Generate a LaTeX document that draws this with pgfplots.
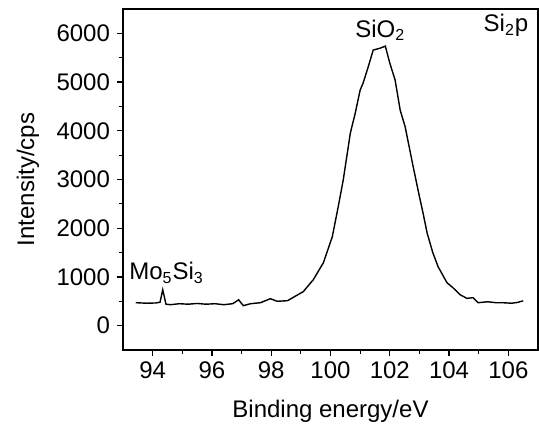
\documentclass[border=0pt]{standalone}
\usepackage{pgfplots}
\pgfplotsset{compat=1.18}
\usepackage{fontspec}
\setmainfont{Liberation Sans}

\newcommand{\chartfont}{\fontsize{12}{14}\selectfont}

\begin{document}
\begin{tikzpicture}
  \begin{axis}[
      scale only axis,
      width=207.5pt, height=170.5pt,
      xmin=93, xmax=107, ymin=-500, ymax=6500,
      xtick={94,96,...,106}, ytick={0,1000,...,6000},
      minor x tick num=1, minor y tick num=1,
      tick pos=left, tick align=outside,
      major tick length=3pt, minor tick length=2pt,
      axis line style={line width=0.8pt},
      every tick/.style={line width=0.6pt, black},
      /pgf/number format/assume math mode=true,
      /pgf/number format/set thousands separator={},
      font=\chartfont,
      tick label style={font=\chartfont},
      xticklabel style={yshift=0.5pt},
      xlabel={Binding energy/eV}, ylabel={Intensity/cps},
      xlabel style={at={(axis description cs:0.5,-0.179)}, anchor=center},
      ylabel style={at={(axis description cs:-0.229,0.5)}, anchor=center},
      clip=false,
    ]
    \addplot[black, line width=0.7pt] coordinates {
      (93.43,471) (93.8,460) (94.1,465) (94.25,480) (94.34,738) (94.45,440)
      (94.6,430) (94.9,450) (95.2,440) (95.5,455) (95.8,440) (96.1,450)
      (96.4,430) (96.7,450) (96.9,530) (97.06,410) (97.3,450) (97.64,471)
      (97.97,553) (98.2,500) (98.55,512) (98.9,635) (99.08,697) (99.42,943)
      (99.76,1291) (100.06,1824) (100.26,2439) (100.43,2992) (100.67,3955)
      (100.83,4350) (101.0,4836) (101.1,4980) (101.27,5307) (101.44,5656)
      (101.68,5697) (101.85,5738) (102.0,5390) (102.18,5041) (102.35,4426)
      (102.52,4078) (102.79,3258) (103.0,2650) (103.12,2316) (103.26,1900)
      (103.45,1500) (103.63,1209) (103.93,881) (104.13,779) (104.37,635)
      (104.6,560) (104.81,574) (104.98,471) (105.3,490) (105.6,470)
      (105.8,471) (106.1,460) (106.3,475) (106.5,510)
    };
    \node[font=\chartfont] at (axis cs:101.68,6060) {SiO$_{\mathrm{2}}$};
    \node[font=\chartfont] at (axis cs:105.92,6160) {Si$_{\mathrm{2}}$p};
    \node[font=\chartfont] at (axis cs:94.47,1080) {Mo$_{\mathrm{5}}$Si$_{\mathrm{3}}$};
  \end{axis}
  \pgfresetboundingbox
  \useasboundingbox ([xshift=-61.5pt,yshift=-37.5pt]current axis.south west)
    rectangle ([xshift=0.5pt,yshift=4.5pt]current axis.north east);
\end{tikzpicture}
\end{document}
